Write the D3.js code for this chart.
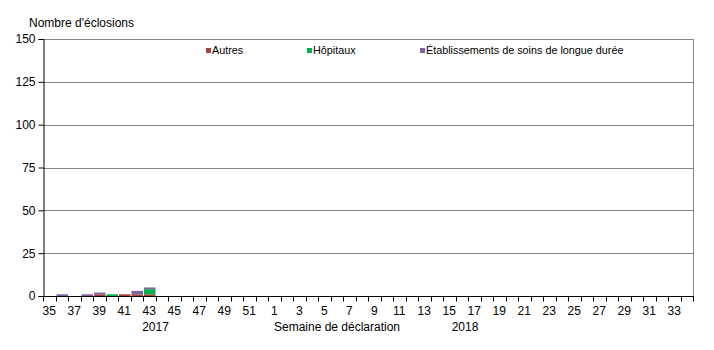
<!DOCTYPE html>
<html><head><meta charset="utf-8">
<script src="https://cdn.jsdelivr.net/npm/d3@7"></script>
<style>body{margin:0;background:#fff}svg{display:block}text{font-family:"Liberation Sans",Arial,sans-serif;fill:#000}</style>
</head><body><svg id="c" width="714" height="350"></svg>
<script>
const weeks2017 = [35,36,37,38,39,40,41,42,43,44,45,46,47,48,49,50,51,52];
const weeks2018 = [1,2,3,4,5,6,7,8,9,10,11,12,13,14,15,16,17,18,19,20,21,22,23,24,25,26,27,28,29,30,31,32,33,34];
const categories = weeks2017.map(w=>"2017-"+w).concat(weeks2018.map(w=>"2018-"+w));
const seriesNames = ["Autres","Hôpitaux","Établissements de soins de longue durée"];
const seriesColors = ["#A5443F","#00B050","#8064A2"];
// values for the 2017 weeks 35..52, then 2018 weeks 1..34
const autres   = [0,0,0,0,1,0,1,1,1,0,0,0,0,0,0,0,0,0, 0,0,0,0,0,0,0,0,0,0,0,0,0,0,0,0,0,0,0,0,0,0,0,0,0,0,0,0,0,0,0,0,0,0];
const hopitaux = [0,0,0,0,0,1,0,0,3,0,0,0,0,0,0,0,0,0, 0,0,0,0,0,0,0,0,0,0,0,0,0,0,0,0,0,0,0,0,0,0,0,0,0,0,0,0,0,0,0,0,0,0];
const eld      = [0,1,0,1,1,0,0,2,1,0,0,0,0,0,0,0,0,0, 0,0,0,0,0,0,0,0,0,0,0,0,0,0,0,0,0,0,0,0,0,0,0,0,0,0,0,0,0,0,0,0,0,0];
const yTicks = [0,25,50,75,100,125,150];

const svg = d3.select("#c");
const L=43, R=693, T=39, B=296;
const xb = d3.scaleBand().domain(categories).range([L,R]);
const y = d3.scaleLinear().domain([0,150]).range([B,T]);

// grid
svg.append("g").selectAll("line").data(yTicks.filter(d=>d>0)).join("line")
  .attr("x1",L).attr("x2",R).attr("y1",d=>Math.round(y(d))+0.5).attr("y2",d=>Math.round(y(d))+0.5)
  .attr("stroke","#868686").attr("stroke-width",1);
svg.append("line").attr("x1",R+0.5).attr("x2",R+0.5).attr("y1",T).attr("y2",B).attr("stroke","#868686");

// stacked bars
const rows = categories.map((c,i)=>({cat:c,a:autres[i],h:hopitaux[i],e:eld[i]}));
const stack = d3.stack().keys(["a","h","e"])(rows);
svg.append("g").selectAll("g").data(stack).join("g").attr("fill",(d,i)=>seriesColors[i])
  .selectAll("rect").data(d=>d.filter(p=>p[1]>p[0])).join("rect")
  .attr("x",d=>xb(d.data.cat)+1).attr("width",xb.bandwidth()-1)
  .attr("y",d=>y(d[1])).attr("height",d=>y(d[0])-y(d[1]));

// y axis
const ya = svg.append("g").attr("transform",`translate(${L+0.5},0)`)
  .call(d3.axisLeft(y).tickValues(yTicks).tickSize(5).tickPadding(3));
ya.attr("font-family",null).attr("font-size",null);
ya.select(".domain").attr("stroke","#000");
ya.selectAll("text").style("font-size","12px");
ya.selectAll("line").attr("stroke","#000");

// x axis
const xa = svg.append("g").attr("transform",`translate(0,${B+0.5})`);
xa.append("line").attr("x1",L).attr("x2",R+1).attr("stroke","#000");
const bounds = categories.map(c=>xb(c)).concat([R]);
xa.selectAll("line.t").data(bounds).join("line").attr("class","t")
  .attr("x1",d=>Math.round(d)+0.5).attr("x2",d=>Math.round(d)+0.5).attr("y1",0).attr("y2",5).attr("stroke","#000");
xa.selectAll("text").data(categories.filter((c,i)=>i%2===0)).join("text")
  .attr("x",d=>xb(d)+xb.bandwidth()/2).attr("y",18).attr("text-anchor","middle").style("font-size","12px")
  .text(d=>d.split("-")[1]);

svg.append("text").attr("x",(xb("2017-43")+xb("2017-44")+xb.bandwidth())/2).attr("y",331).attr("text-anchor","middle").style("font-size","12px").text("2017");
svg.append("text").attr("x",xb("2018-17")-3).attr("y",331).attr("text-anchor","middle").style("font-size","12px").text("2018");
svg.append("text").attr("x",337).attr("y",331).attr("text-anchor","middle").style("font-size","12px").text("Semaine de déclaration");
svg.append("text").attr("x",29).attr("y",27).style("font-size","12px").text("Nombre d'éclosions");

// legend
const legX = [206,307,420];
const lg = svg.append("g");
seriesNames.forEach((n,i)=>{
  lg.append("rect").attr("x",legX[i]).attr("y",48).attr("width",5).attr("height",5).attr("fill",seriesColors[i]);
  lg.append("text").attr("x",legX[i]+6).attr("y",54).style("font-size","10.8px").text(n);
});
</script></body></html>
